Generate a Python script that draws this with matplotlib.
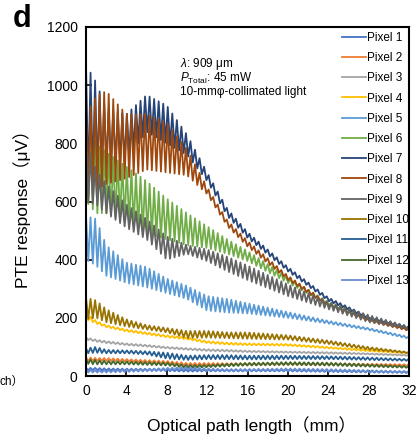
import numpy as np
import matplotlib
matplotlib.use('Agg')
import matplotlib.pyplot as plt

plt.rcParams['font.family'] = ['Liberation Sans', 'Noto Sans CJK JP', 'DejaVu Sans']
plt.rcParams['mathtext.fontset'] = 'custom'
plt.rcParams['mathtext.rm'] = 'Liberation Sans'
plt.rcParams['mathtext.it'] = 'Liberation Sans:italic'

# Values (uV): upper / lower envelope of each trace
knots = [0, 1, 2, 4, 6, 8, 10, 12, 14, 16, 20, 24, 28, 32]

labels = ['Pixel %d' % i for i in range(1, 14)]
colors = ['#4472C4', '#ED7D31', '#A5A5A5', '#FFC000', '#5B9BD5', '#70AD47',
          '#264478', '#9E480E', '#636363', '#997300', '#255E91', '#43682B',
          '#698ED0']

p1_up = [28, 28, 26, 25, 25, 24, 22, 22, 22, 22, 22, 20, 18, 16]
p1_lo = [20, 20, 19, 18, 18, 17, 15, 16, 16, 16, 16, 14, 12, 11]
p2_up = [65, 62, 62, 58, 55, 52, 45, 45, 44, 44, 45, 44, 42, 40]
p2_lo = [50, 52, 52, 50, 46, 42, 36, 36, 37, 37, 38, 37, 36, 35]
p3_up = [133, 125, 120, 112, 107, 100, 96, 92, 90, 87, 84, 82, 78, 73]
p3_lo = [125, 118, 113, 106, 101, 95, 90, 86, 84, 82, 80, 77, 74, 69]
p4_up = [215, 190, 175, 160, 150, 140, 132, 120, 115, 112, 110, 100, 90, 82]
p4_lo = [195, 180, 168, 153, 143, 133, 126, 113, 108, 106, 104, 95, 85, 77]
p5_up = [550, 540, 450, 390, 375, 335, 310, 275, 265, 250, 220, 190, 165, 135]
p5_lo = [400, 380, 345, 320, 305, 285, 265, 225, 218, 215, 200, 180, 158, 128]
p6_up = [900, 800, 770, 720, 670, 610, 560, 515, 470, 430, 340, 255, 200, 165]
p6_lo = [600, 560, 560, 530, 490, 470, 450, 440, 420, 395, 320, 245, 193, 158]
p7_up = [1070, 1010, 920, 900, 966, 930, 830, 700, 575, 495, 375, 270, 205, 170]
p7_lo = [650, 700, 720, 740, 840, 800, 760, 670, 550, 475, 360, 258, 197, 162]
p8_up = [900, 960, 980, 900, 900, 870, 780, 650, 535, 465, 345, 250, 195, 162]
p8_lo = [600, 640, 660, 680, 710, 700, 690, 625, 515, 445, 330, 240, 188, 155]
p9_up = [810, 710, 660, 590, 540, 480, 450, 435, 410, 380, 315, 255, 210, 170]
p9_lo = [600, 590, 560, 510, 470, 400, 420, 395, 360, 330, 275, 230, 185, 160]
p10_up = [270, 260, 230, 195, 175, 165, 155, 155, 150, 150, 140, 122, 100, 82]
p10_lo = [195, 200, 185, 170, 160, 150, 130, 132, 130, 128, 125, 110, 90, 78]
p11_up = [95, 100, 90, 88, 85, 80, 70, 72, 72, 70, 70, 68, 64, 58]
p11_lo = [78, 80, 78, 78, 74, 60, 55, 58, 58, 57, 58, 58, 55, 52]
p12_up = [58, 55, 52, 50, 48, 46, 38, 38, 42, 45, 48, 46, 40, 34]
p12_lo = [42, 40, 40, 40, 38, 36, 28, 30, 33, 36, 38, 36, 32, 28]
p13_up = [22, 20, 20, 22, 24, 28, 30, 26, 24, 24, 26, 24, 20, 16]
p13_lo = [12, 12, 12, 14, 16, 20, 22, 18, 16, 16, 18, 16, 13, 10]

uppers = [p1_up, p2_up, p3_up, p4_up, p5_up, p6_up, p7_up, p8_up, p9_up,
          p10_up, p11_up, p12_up, p13_up]
lowers = [p1_lo, p2_lo, p3_lo, p4_lo, p5_lo, p6_lo, p7_lo, p8_lo, p9_lo,
          p10_lo, p11_lo, p12_lo, p13_lo]

period = 0.45  # mm, fringe spacing seen in the traces

fig = plt.figure(figsize=(4.19, 4.41), dpi=100)
ax = fig.add_axes([86 / 419, 1 - 376 / 441, 323 / 419, 349 / 441])

xs = np.arange(0, 32 + 1e-9, period / 2)
for up, lo, c, lab in zip(uppers, lowers, colors, labels):
    hi = np.interp(xs, knots, up)
    low = np.interp(xs, knots, lo)
    ys = np.where(np.arange(len(xs)) % 2 == 0, hi, low)
    ax.plot(xs, ys, color=c, lw=1.3, label=lab)

ax.set_xlim(0, 32)
ax.set_ylim(0, 1200)
ax.set_xticks(range(0, 33, 4))
ax.set_yticks(range(0, 1201, 200))
ax.tick_params(direction='in', length=4, width=1.2, labelsize=10, pad=6)
for s in ax.spines.values():
    s.set_linewidth(1.5)

leg = ax.legend(loc='upper right', bbox_to_anchor=(1.025, 1.01), frameon=False,
                fontsize=8.5, handlelength=2.0, handletextpad=0.1,
                labelspacing=0.7, borderaxespad=0.3)

# annotation block
ax.text(0.29, 0.885, r'$\lambda$: 909 μm', transform=ax.transAxes, fontsize=8.5)
ax.text(0.29, 0.843, r'$\it{P}_{\rm Total}$: 45 mW', transform=ax.transAxes, fontsize=8.5)
ax.text(0.29, 0.806, '10-mmφ-collimated light', transform=ax.transAxes, fontsize=8.5)

fig.text(13 / 419, 1 - 27 / 441, 'd', fontsize=22, fontweight='bold')
fig.text(22 / 419, 1 - 205 / 441, 'PTE response（μV）', rotation=90,
         ha='center', va='center', fontsize=12.5)
fig.text(251 / 419, 1 - 425 / 441, 'Optical path length（mm）',
         ha='center', va='center', fontsize=12.5)
fig.text(-0.002, 1 - 382 / 441, 'ch）', ha='left', va='center', fontsize=8.5)

fig.savefig('out.png', dpi=100)
